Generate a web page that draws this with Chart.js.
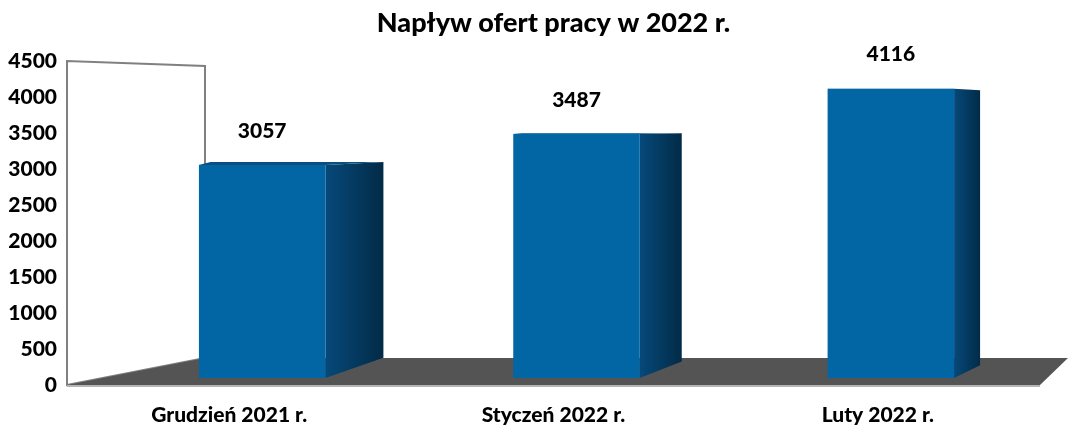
<!DOCTYPE html>
<html>
<head>
<meta charset="utf-8">
<script src="https://cdn.jsdelivr.net/npm/chart.js@4.4.0/dist/chart.umd.min.js"></script>
<style>
    body { margin: 0; background: #ffffff; }
    #wrap { width: 1068px; height: 426px; }
</style>
</head>
<body>
<div id="wrap"><canvas id="offersChart"></canvas></div>
<script>
// Chart data
const categories = ['Grudzień 2021 r.', 'Styczeń 2022 r.', 'Luty 2022 r.'];
const offers = [3057, 3487, 4116];
const yMin = 0;
const yMax = 4500;
const yStep = 500;
const titleText = 'Napływ ofert pracy w 2022 r.';

const FONT = 'Lato';
const WEIGHT = 900;
const FRONT = '#0366a4';
let offersChart = null;

// Perspective helpers (t = relative position of the bar across the plot)
function perspective(chart, x) {
    const { left, right } = chart.chartArea;
    const t = (x - left) / (right - left);
    return {
        shift: 38 - 30 * t,
        dx: 66 - 48 * t,
        dyBottom: -22 + 11 * t,
        dyTop: -4.1 + 6.7 * t
    };
}

// Back wall and floor
const roomPlugin = {
    id: 'room',
    beforeDatasetsDraw(chart) {
        const ctx = chart.ctx;
        const { left: L, right: R, top: T, bottom: B } = chart.chartArea;
        ctx.save();

        // left wall
        ctx.beginPath();
        ctx.moveTo(L, B);
        ctx.lineTo(L, T);
        ctx.lineTo(L + 138, T + 5);
        ctx.lineTo(L + 138, B - 27);
        ctx.closePath();
        ctx.fillStyle = '#ffffff';
        ctx.fill();
        ctx.strokeStyle = '#808080';
        ctx.lineWidth = 2;
        ctx.stroke();

        // floor
        ctx.beginPath();
        ctx.moveTo(L, B);
        ctx.lineTo(L + 138, B - 27);
        ctx.lineTo(R + 28, B - 27);
        ctx.lineTo(R, B);
        ctx.closePath();
        ctx.fillStyle = '#545454';
        ctx.fill();

        // floor front edge
        ctx.beginPath();
        ctx.moveTo(L, B + 1);
        ctx.lineTo(R, B + 1);
        ctx.strokeStyle = '#b4b4b4';
        ctx.lineWidth = 2;
        ctx.stroke();

        ctx.restore();
    }
};

// 3D bars and value labels
const barsPlugin = {
    id: 'bars3d',
    afterDatasetsDraw(chart) {
        const ctx = chart.ctx;
        const meta = chart.getDatasetMeta(0);
        ctx.save();
        meta.data.forEach((bar, i) => {
            const p = perspective(chart, bar.x);
            const x0 = bar.x - bar.width / 2 + p.shift;
            const x1 = bar.x + bar.width / 2 + p.shift;
            const top = bar.y;
            const bottom = bar.base - 7;

            // side face
            const grad = ctx.createLinearGradient(x1, 0, x1 + p.dx, 0);
            grad.addColorStop(0, '#06497a');
            grad.addColorStop(1, '#022b47');
            ctx.beginPath();
            ctx.moveTo(x1, top);
            ctx.lineTo(x1 + p.dx, top + p.dyTop);
            ctx.lineTo(x1 + p.dx, bottom + p.dyBottom);
            ctx.lineTo(x1, bottom);
            ctx.closePath();
            ctx.fillStyle = grad;
            ctx.fill();

            // top face
            if (p.dyTop < 0) {
                ctx.beginPath();
                ctx.moveTo(x0, top);
                ctx.lineTo(x0 + p.dx * 0.2, top + p.dyTop);
                ctx.lineTo(x1 + p.dx, top + p.dyTop);
                ctx.lineTo(x1, top);
                ctx.closePath();
                ctx.fillStyle = '#0a4f80';
                ctx.fill();
            }

            // front face
            ctx.fillStyle = FRONT;
            ctx.fillRect(x0, top, x1 - x0, bottom - top);

            // value label
            ctx.fillStyle = '#000000';
            ctx.font = `${WEIGHT} 21px ${FONT}`;
            ctx.textAlign = 'center';
            ctx.textBaseline = 'middle';
            ctx.fillText(String(offers[i]), (x0 + x1) / 2, top - 34);
        });
        ctx.restore();
    }
};

function drawChart() {
    const ctx = document.getElementById('offersChart');
    Chart.defaults.font.family = FONT;
    Chart.defaults.color = '#000000';

    offersChart = new Chart(ctx, {
        type: 'bar',
        data: {
            labels: categories,
            datasets: [{
                data: offers,
                backgroundColor: 'rgba(0,0,0,0)',
                borderWidth: 0,
                barPercentage: 0.39,
                categoryPercentage: 1
            }]
        },
        options: {
            responsive: true,
            maintainAspectRatio: false,
            animation: false,
            layout: {
                padding: { left: 0, right: 28, top: 0, bottom: 0 }
            },
            plugins: {
                legend: { display: false },
                tooltip: { enabled: false },
                title: {
                    display: true,
                    text: titleText,
                    fullSize: false,
                    font: { size: 27, weight: WEIGHT },
                    color: '#000000',
                    padding: { top: 7, bottom: 21.6 }
                }
            },
            scales: {
                x: {
                    grid: { display: false, drawTicks: false },
                    border: { display: false },
                    ticks: {
                        font: { size: 21, weight: WEIGHT },
                        color: '#000000',
                        padding: 18,
                        maxRotation: 0
                    },
                    afterFit: function(scale) {
                        scale.height = 41;
                    }
                },
                y: {
                    min: yMin,
                    max: yMax,
                    grid: { display: false, drawTicks: false },
                    border: { display: false },
                    ticks: {
                        stepSize: yStep,
                        font: { size: 21, weight: WEIGHT },
                        color: '#000000',
                        padding: 10,
                        callback: function(value) {
                            return String(value);
                        }
                    },
                    afterFit: function(scale) {
                        scale.width = 67;
                    }
                }
            }
        },
        plugins: [roomPlugin, barsPlugin]
    });
}

document.fonts.load(`${WEIGHT} 21px ${FONT}`).then(drawChart, drawChart);
</script>
</body>
</html>
